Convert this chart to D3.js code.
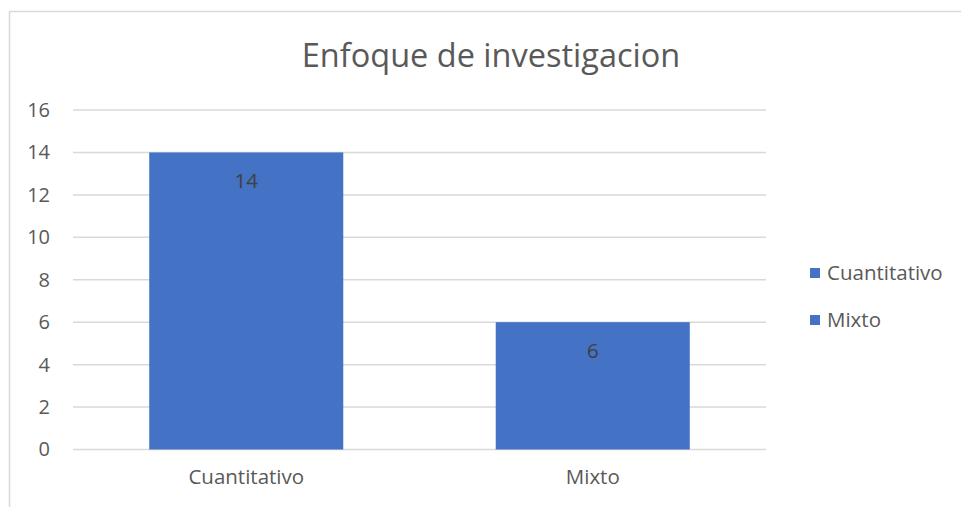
<!DOCTYPE html>
<html>
<head>
<meta charset="utf-8">
<script src="https://cdn.jsdelivr.net/npm/d3@7"></script>
<style>
  body { margin: 0; background: #fff; }
  text { font-family: "Open Sans", "Liberation Sans", sans-serif; }
</style>
</head>
<body>
<div id="chart"></div>
<script type="text/javascript">
// chart data
var categories = ["Cuantitativo", "Mixto"];
var values = [14, 6];
var yTicks = [0, 2, 4, 6, 8, 10, 12, 14, 16];
var legendLabels = ["Cuantitativo", "Mixto"];
var chartTitle = "Enfoque de investigacion";

var W = 961, H = 507;
var margin = {top: 110, left: 73, right: 195, bottom: 57.5};
var width = W - margin.left - margin.right,
    height = H - margin.top - margin.bottom;

var svg = d3.select("#chart").append("svg")
    .attr("width", W)
    .attr("height", H);

// outer chart border
svg.append("rect")
    .attr("x", 9.5).attr("y", 11.5)
    .attr("width", W).attr("height", H)
    .attr("fill", "none")
    .attr("stroke", "#d9d9d9")
    .attr("stroke-width", 1.5);

svg.append("text")
    .attr("x", 491).attr("y", 67)
    .attr("text-anchor", "middle")
    .attr("fill", "#595959")
    .style("font-size", "32.5px")
    .text(chartTitle);

var g = svg.append("g")
    .attr("transform", "translate(" + margin.left + "," + margin.top + ")");

var x = d3.scaleBand().domain(categories).range([0, width])
    .paddingInner(0.44).paddingOuter(0.22);
var y = d3.scaleLinear().domain([0, 16]).range([height, 0]);

// gridlines
g.selectAll(".grid").data(yTicks).enter().append("line")
    .attr("x1", 0).attr("x2", width)
    .attr("y1", function(d) { return y(d); })
    .attr("y2", function(d) { return y(d); })
    .attr("stroke", "#d9d9d9")
    .attr("stroke-width", 1.5);

// y axis labels
var yAxis = g.append("g")
    .call(d3.axisLeft(y).tickValues(yTicks).tickSize(0).tickPadding(23));
yAxis.select(".domain").remove();
yAxis.selectAll("text")
    .attr("fill", "#595959")
    .style("font-size", "20px")
    .style("font-family", "'Open Sans', sans-serif");

// bars
g.selectAll(".bar").data(values).enter().append("rect")
    .attr("x", function(d, i) { return x(categories[i]); })
    .attr("y", function(d) { return y(d); })
    .attr("width", x.bandwidth())
    .attr("height", function(d) { return height - y(d); })
    .attr("fill", "#4472c4");

// data labels
g.selectAll(".lbl").data(values).enter().append("text")
    .attr("x", function(d, i) { return x(categories[i]) + x.bandwidth() / 2; })
    .attr("y", function(d) { return y(d) + 36; })
    .attr("text-anchor", "middle")
    .attr("fill", "#404040")
    .style("font-size", "20.5px")
    .text(function(d) { return d; });

// x axis labels
var xAxis = g.append("g")
    .attr("transform", "translate(0," + height + ")")
    .call(d3.axisBottom(x).tickSize(0).tickPadding(20));
xAxis.select(".domain").remove();
xAxis.selectAll("text")
    .attr("fill", "#595959")
    .style("font-size", "20.5px")
    .style("font-family", "'Open Sans', sans-serif");

// legend
var legend = svg.append("g");
legendLabels.forEach(function(name, i) {
  var ly = 273 + i * 47;
  legend.append("rect")
      .attr("x", 810).attr("y", ly - 5)
      .attr("width", 10).attr("height", 10)
      .attr("fill", "#4472c4");
  legend.append("text")
      .attr("x", 827).attr("y", ly + 7)
      .attr("fill", "#595959")
      .style("font-size", "20.5px")
      .text(name);
});
</script>
</body>
</html>
